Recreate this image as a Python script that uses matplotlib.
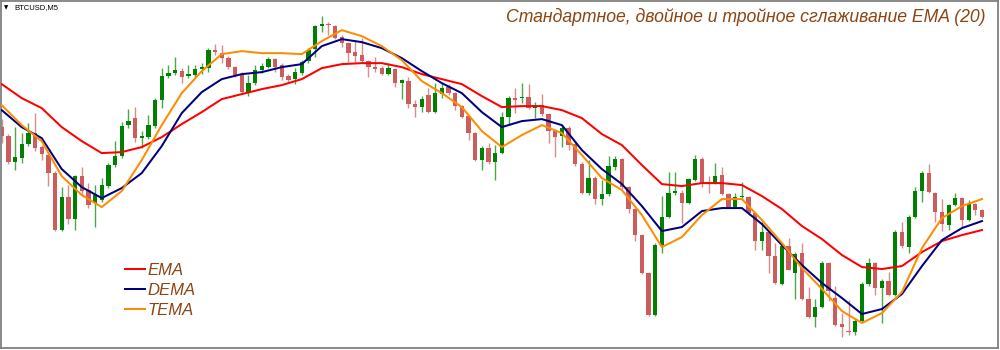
import numpy as np
import matplotlib
matplotlib.use('Agg')
import matplotlib.pyplot as plt

# BTCUSD M5 candles (price units)
opens = [223, 214, 188, 192, 206, 217, 203, 195, 177, 120,
         153, 131, 174, 160, 147, 150, 164, 185, 194, 225,
         232, 212, 213, 224, 250, 274, 277, 279, 274, 275,
         281, 282, 300, 297, 292, 283, 276, 258, 267, 280,
         283, 291, 285, 274, 271, 277, 289, 301, 324, 326,
         324, 313, 307, 298, 295, 289, 283, 282, 276, 281,
         267, 269, 246, 243, 255, 238, 256, 263, 257, 244,
         234, 217, 190, 202, 188, 197, 233, 252, 252, 253,
         242, 245, 236, 219, 214, 222, 206, 186, 157, 172,
         151, 156, 183, 191, 163, 141, 115, 77, 35, 105,
         133, 157, 157, 147, 170, 191, 168, 167, 175, 156,
         143, 153, 153, 137, 109, 118, 94, 66, 104, 77,
         97, 51, 33, 43, 87, 52, 26, 19, 18, 29,
         66, 87, 62, 69, 55, 118, 103, 133, 159, 177,
         157, 138, 125, 145, 152, 130, 146, 140]
highs = [231, 216, 223, 217, 227, 237, 205, 197, 179, 163,
         165, 175, 183, 167, 165, 172, 187, 209, 228, 241,
         243, 219, 235, 252, 282, 285, 293, 282, 285, 285,
         287, 302, 306, 305, 294, 284, 278, 275, 285, 287,
         293, 292, 287, 276, 282, 290, 302, 325, 334, 328,
         325, 315, 308, 310, 312, 290, 293, 284, 287, 282,
         271, 273, 250, 254, 262, 267, 267, 266, 258, 245,
         235, 218, 204, 207, 205, 238, 254, 262, 267, 266,
         248, 256, 237, 221, 225, 224, 208, 188, 190, 174,
         170, 194, 194, 192, 164, 142, 116, 78, 107, 154,
         178, 178, 160, 172, 195, 193, 174, 187, 183, 157,
         157, 168, 154, 138, 128, 119, 107, 106, 112, 98,
         107, 63, 51, 89, 88, 64, 37, 50, 32, 68,
         92, 88, 71, 78, 120, 128, 135, 163, 179, 186,
         158, 151, 146, 157, 153, 150, 147, 141]
lows = [207, 186, 180, 187, 204, 199, 190, 164, 119, 119,
        126, 120, 154, 142, 123, 148, 162, 183, 192, 222,
        208, 202, 211, 222, 242, 272, 275, 267, 272, 273,
        276, 278, 295, 287, 281, 273, 257, 254, 265, 277,
        282, 278, 270, 268, 266, 275, 287, 293, 318, 315,
        311, 303, 288, 288, 287, 273, 278, 275, 275, 263,
        251, 242, 233, 238, 237, 237, 252, 255, 240, 232,
        210, 189, 180, 186, 170, 196, 225, 237, 247, 241,
        232, 234, 207, 193, 203, 200, 184, 156, 155, 146,
        145, 154, 180, 161, 137, 109, 76, 34, 34, 97,
        132, 155, 127, 146, 169, 163, 157, 166, 155, 142,
        142, 150, 135, 100, 100, 77, 66, 65, 80, 51,
        50, 32, 23, 42, 49, 24, 13, 15, 15, 28,
        64, 55, 27, 54, 54, 102, 97, 132, 148, 157,
        128, 119, 120, 144, 123, 129, 135, 132]
closes = [214, 188, 193, 206, 217, 202, 196, 177, 120, 153,
          131, 174, 159, 145, 155, 165, 185, 194, 224, 229,
          212, 214, 225, 250, 274, 277, 280, 273, 276, 281,
          283, 300, 298, 292, 283, 275, 258, 267, 280, 284,
          291, 283, 273, 270, 278, 288, 300, 324, 326, 325,
          312, 307, 297, 294, 289, 283, 281, 276, 282, 267,
          270, 246, 243, 251, 238, 257, 262, 257, 244, 233,
          217, 190, 202, 188, 197, 233, 252, 250, 253, 242,
          245, 236, 219, 213, 222, 205, 186, 157, 172, 151,
          156, 184, 191, 163, 141, 115, 77, 35, 105, 133,
          157, 159, 147, 171, 191, 167, 166, 174, 156, 143,
          153, 154, 137, 109, 118, 94, 67, 104, 80, 96,
          51, 33, 43, 87, 59, 25, 23, 18, 29, 66,
          87, 62, 69, 55, 118, 104, 133, 159, 177, 158,
          138, 126, 145, 152, 130, 146, 140, 133]

# moving averages, read every 3rd bar
ma_bars = list(range(0, 148, 3))
ema = [266, 252, 242, 223, 209, 197, 198, 203, 213, 226,
       238, 251, 256, 261, 265, 271, 282, 286, 287, 287,
       283, 276, 271, 266, 254, 243, 244, 244, 240, 232,
       216, 205, 185, 166, 164, 167, 167, 165, 154, 141,
       124, 111, 95, 83, 81, 84, 98, 109, 115, 120]
dema = [240, 223, 212, 181, 163, 152, 162, 177, 204, 237,
        258, 271, 276, 278, 283, 286, 304, 311, 308, 302,
        292, 279, 267, 257, 238, 223, 229, 231, 225, 200,
        181, 166, 144, 119, 123, 139, 142, 142, 126, 105,
        85, 67, 52, 36, 41, 56, 84, 110, 122, 129]
tema = [245, 225, 209, 174, 155, 143, 159, 190, 225, 257,
        279, 296, 299, 297, 297, 296, 309, 320, 314, 304,
        290, 269, 257, 243, 219, 203, 215, 225, 217, 195,
        172, 160, 135, 103, 113, 135, 151, 151, 130, 107,
        82, 61, 39, 27, 37, 58, 102, 132, 144, 151]

title = 'Стандартное, двойное и тройное сглаживание EMA (20)'
brown = '#8B4513'

o = np.array(opens, float)
c = np.array(closes, float)
h = np.array(highs, float)
l = np.array(lows, float)
x = np.arange(len(o))
bull = c >= o
body_col = np.where(bull, '#008000', '#cd5c5c')
wick_col = np.where(bull, '#4ca64c', '#d98c8c')

fig = plt.figure(figsize=(10, 3.5), dpi=100)
ax = fig.add_axes([0.001, 0.0057, 0.997, 0.991])

ax.vlines(x, l, h, colors=wick_col, linewidth=1.0, zorder=1)
ax.bar(x, np.maximum(np.abs(c - o), 1.2), bottom=np.minimum(o, c),
       width=0.64, color=body_col, linewidth=0, zorder=2)

l1, = ax.plot(ma_bars, ema, color='#ff0000', lw=1.45, zorder=3)
l2, = ax.plot(ma_bars, dema, color='#000080', lw=1.45, zorder=3)
l3, = ax.plot(ma_bars, tema, color='#ff8c00', lw=1.45, zorder=3)

ax.set_xlim(-0.105, 149.4)
ax.set_ylim(2, 349)
ax.set_xticks([])
ax.set_yticks([])
for s in ax.spines.values():
    s.set_color('#808080')
    s.set_linewidth(1.3)

fig.text(0.985, 1 - 17.5 / 350, title, ha='right', va='center',
         fontsize=12.7, style='italic', color=brown, family='Liberation Sans')
fig.text(0.004, 1 - 7.5 / 350, '▼', ha='left', va='center', fontsize=4)
fig.text(0.014, 1 - 7.5 / 350, 'BTCUSD,M5', ha='left', va='center',
         fontsize=5.5, family='Liberation Sans')

ax.legend([l1, l2, l3], ['EMA', 'DEMA', 'TEMA'], loc='upper left',
          bbox_to_anchor=(0.125, 1 - 263 / 350), bbox_transform=fig.transFigure,
          frameon=False, prop={'family': 'Liberation Sans', 'style': 'italic', 'size': 12},
          labelcolor=brown, handlelength=1.2, handletextpad=0.15,
          labelspacing=0.3, borderpad=0, borderaxespad=0)

fig.savefig('out.png', dpi=100)
